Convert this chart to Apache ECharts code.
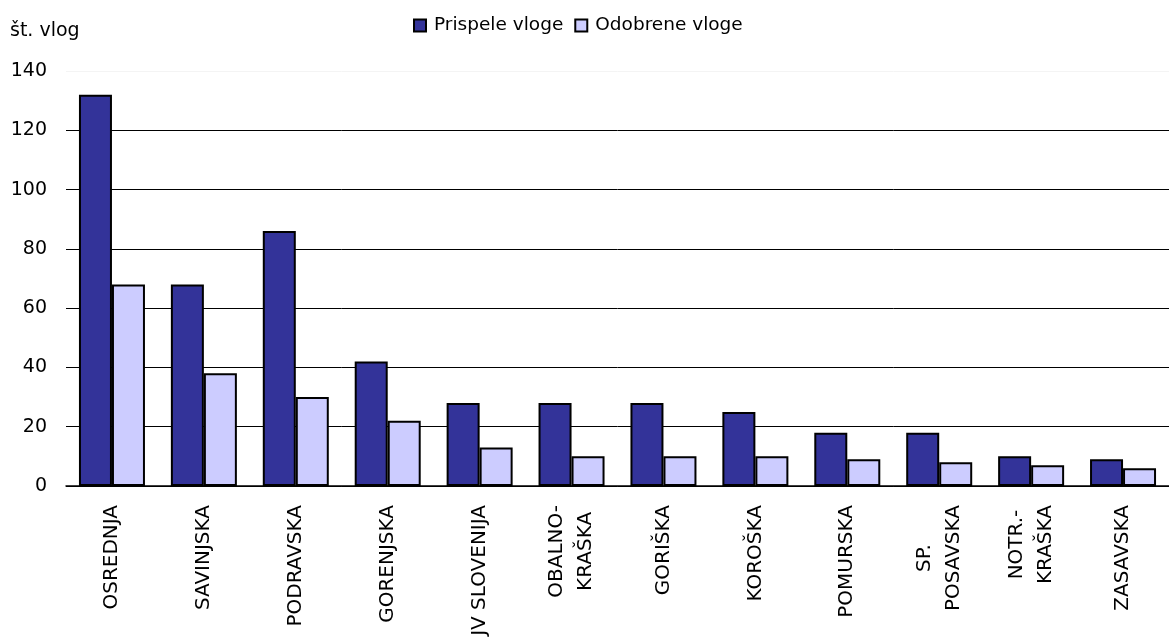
<!DOCTYPE html>
<html>
<head>
<meta charset="utf-8">
<script src="https://cdn.jsdelivr.net/npm/echarts@6/dist/echarts.min.js"></script>
<style>
html,body{margin:0;padding:0;background:#fff;}
#chart{width:1169px;height:641px;}
</style>
</head>
<body>
<div id="chart"></div>
<script>
const categories = ['OSREDNJA','SAVINJSKA','PODRAVSKA','GORENJSKA','JV SLOVENIJA','OBALNO-\nKRAŠKA','GORIŠKA','KOROŠKA','POMURSKA','SP.\nPOSAVSKA','NOTR.-\nKRAŠKA','ZASAVSKA'];
const prispele = [132, 68, 86, 42, 28, 28, 28, 25, 18, 18, 10, 9];
const odobrene = [68, 38, 30, 22, 13, 10, 10, 10, 9, 8, 7, 6];
const seriesNames = ['Prispele vloge', 'Odobrene vloge'];
const yTicks = [0, 20, 40, 60, 80, 100, 120, 140];

const FONT = 'DejaVu Sans';
const chart = echarts.init(document.getElementById('chart'), null, {renderer: 'canvas'});
chart.setOption({
  backgroundColor: '#fff',
  animation: false,
  textStyle: {fontFamily: FONT, color: '#000'},
  title: {
    text: 'št. vlog',
    left: 5, top: 17,
    textStyle: {fontFamily: FONT, fontSize: 19, fontWeight: 'normal', color: '#000'}
  },
  legend: {
    data: seriesNames,
    left: 413, top: 16, padding: 0,
    itemWidth: 12, itemHeight: 12, itemGap: 11,
    itemStyle: {borderColor: '#000', borderWidth: 2},
    textStyle: {fontFamily: FONT, fontSize: 18.5, color: '#000', padding: [0,0,0,3]},
    icon: 'rect'
  },
  grid: {left: 66, top: 71, bottom: 155, width: 1115, containLabel: false},
  xAxis: {
    type: 'category',
    data: categories,
    axisLine: {lineStyle: {color: '#000', width: 1.5}},
    axisTick: {length: 7, lineStyle: {color: '#000', width: 1.5}},
    axisLabel: {
      rotate: 90, interval: 0, margin: 19, color: '#000', align: 'right', verticalAlign: 'middle',
      formatter: function (v) { return v.split('\n').map(function (s) { return '{c|' + s + '}'; }).join('\n'); },
      rich: {c: {align: 'center', fontFamily: FONT, fontSize: 20, lineHeight: 29, color: '#000'}}
    }
  },
  yAxis: {
    type: 'value',
    min: yTicks[0], max: yTicks[yTicks.length-1], interval: 20,
    axisLine: {show: false},
    axisTick: {show: false},
    axisLabel: {margin: 19, fontFamily: FONT, fontSize: 19, color: '#000'},
    splitLine: {lineStyle: {color: ['#000','#000','#000','#000','#000','#000','#000','#f4f4f4'], width: 1}}
  },
  series: [
    {
      name: seriesNames[0], type: 'bar', data: prispele,
      barWidth: 33, barGap: '0%',
      itemStyle: {color: '#333399', borderColor: '#000', borderWidth: 2}
    },
    {
      name: seriesNames[1], type: 'bar', data: odobrene,
      barWidth: 33, barGap: '0%',
      itemStyle: {color: '#CCCCFF', borderColor: '#000', borderWidth: 2}
    }
  ]
});
</script>
</body>
</html>
